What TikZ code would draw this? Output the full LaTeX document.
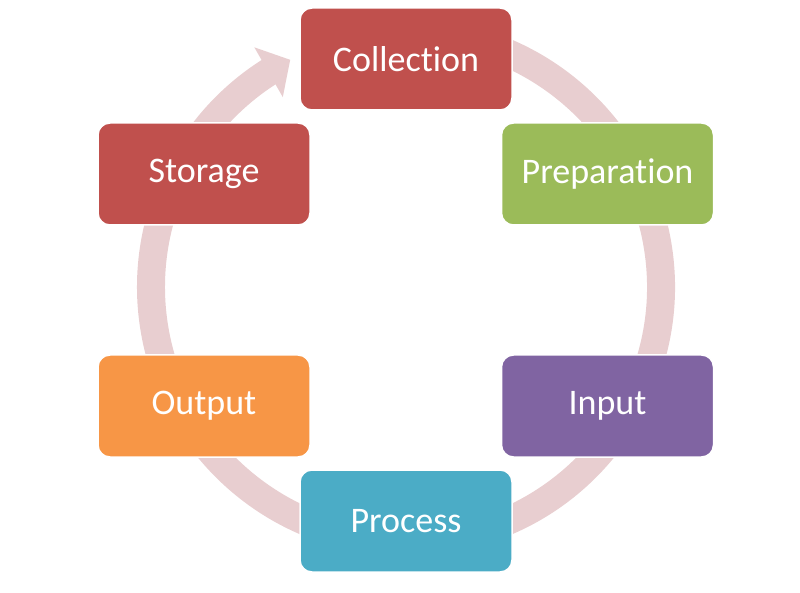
\documentclass[tikz,border=0pt]{standalone}
\usepackage{fontspec}
\setmainfont{Carlito}[Ligatures=NoCommon]
\usetikzlibrary{arrows.meta,bending}

\definecolor{stagered}{HTML}{C0504D}
\definecolor{stagegreen}{HTML}{9BBB59}
\definecolor{stagepurple}{HTML}{8064A2}
\definecolor{stageteal}{HTML}{4BACC6}
\definecolor{stageorange}{HTML}{F79646}
\definecolor{ringpink}{RGB}{232,206,208}

\tikzset{
  stagebox/.style={rectangle, rounded corners=12pt, draw=white, line width=1.5pt,
    minimum width=212pt, minimum height=102pt, text=white,
    font=\fontsize{36}{40}\selectfont},
  cyclering/.style={draw=ringpink, line width=28pt,
    -{Triangle[length=25pt,width=56pt,flex]}}
}

\begin{document}
\begin{tikzpicture}[x=1pt,y=1pt]
    \useasboundingbox (0,0) rectangle (800,592);
    \coordinate (hub) at (406,305);

    % the cycle arrow behind the stages
    \draw[cyclering] ([shift={(100:255pt)}]hub) arc[start angle=100, end angle=-243, radius=255pt];

    \node[stagebox, fill=stagered]    (collection)  at (406,533)   {Collection};
    \node[stagebox, fill=stagegreen]  (preparation) at (607.5,418) {Preparation};
    \node[stagebox, fill=stagepurple] (input)       at (607.5,186) {Input};
    \node[stagebox, fill=stageteal]   (process)     at (406,71)    {Process};
    \node[stagebox, fill=stageorange] (output)      at (204,186)   {Output};
    \node[stagebox, fill=stagered]    (storage)     at (204,418)   {Storage};
\end{tikzpicture}
\end{document}
